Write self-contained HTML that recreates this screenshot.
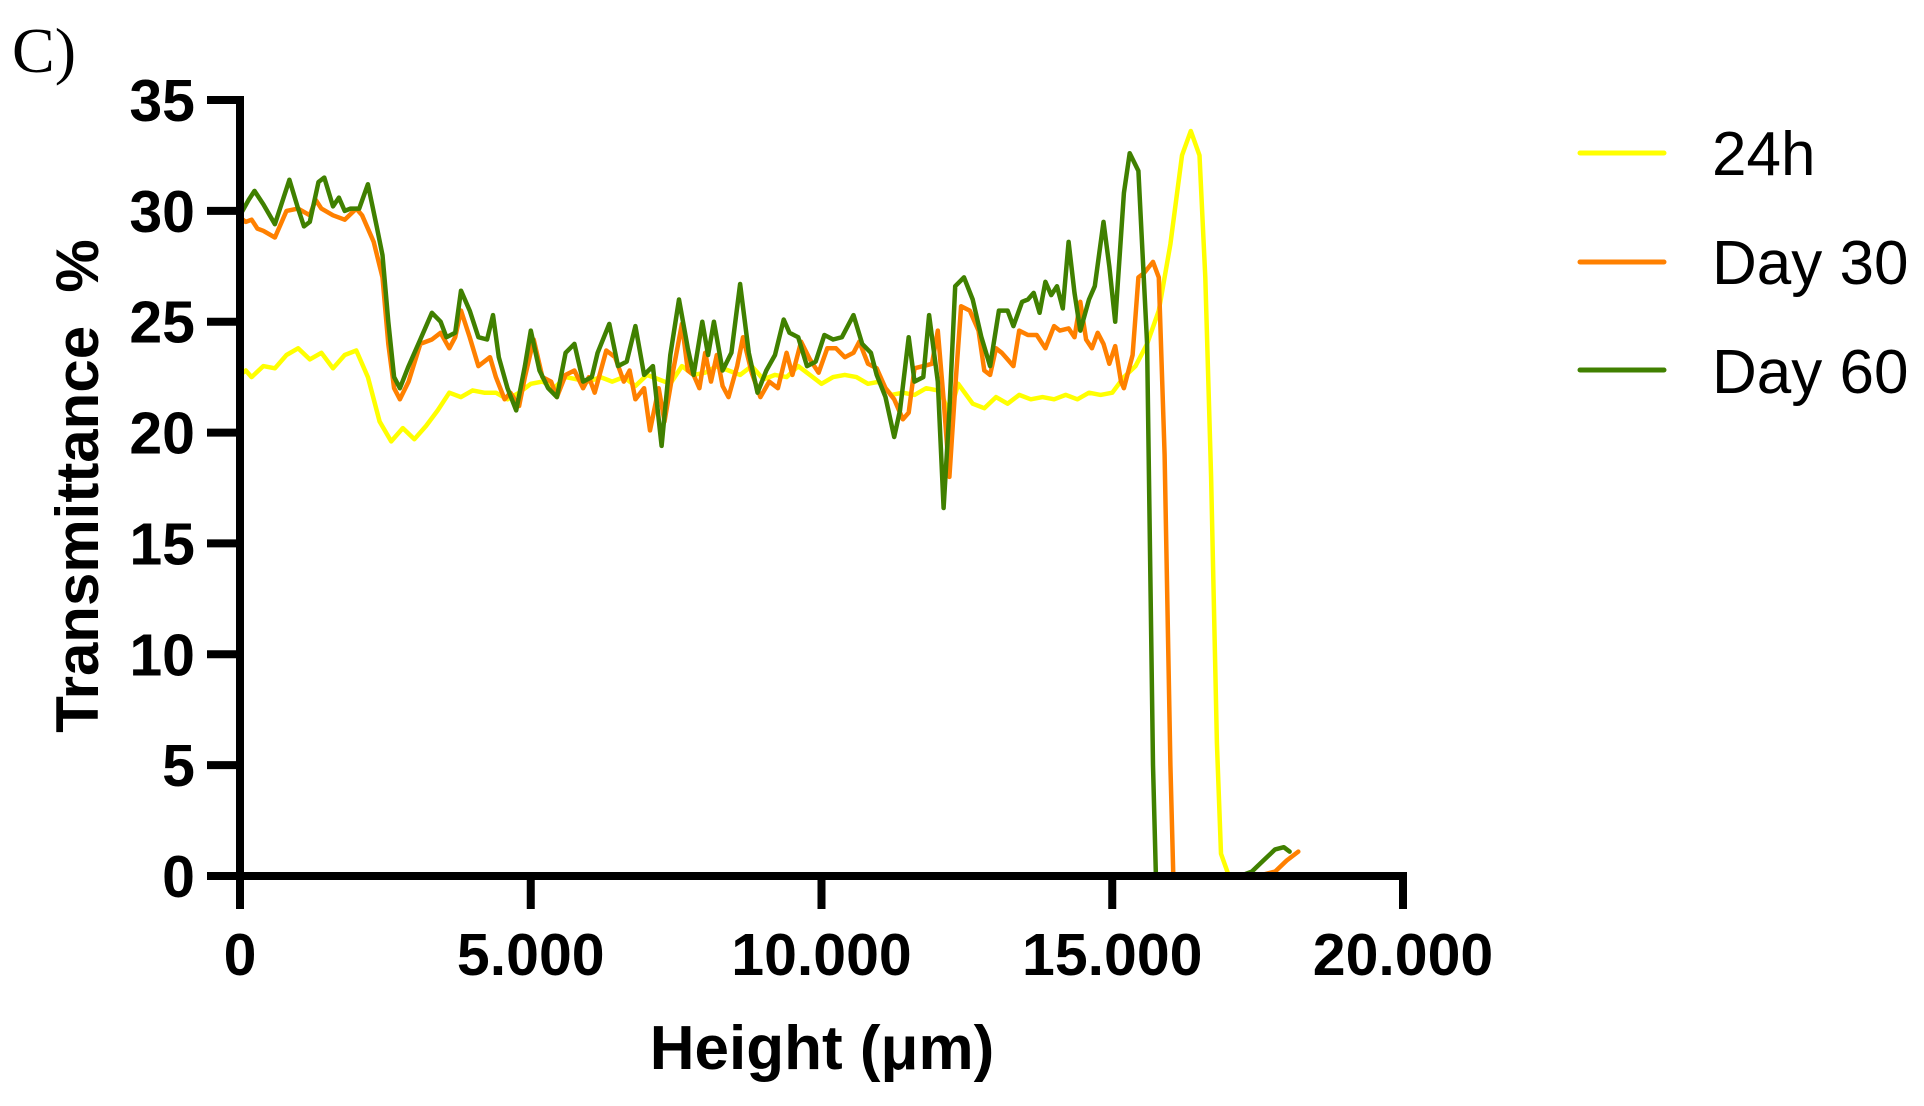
<!DOCTYPE html>
<html><head><meta charset="utf-8"><style>
html,body{margin:0;padding:0;background:#fff;}
svg{display:block;font-family:"Liberation Sans",Arial,sans-serif;}
</style></head><body>
<svg id="chart" width="1924" height="1106" viewBox="0 0 1924 1106">
<text x="12" y="72" font-family="Liberation Serif,serif" font-size="64">C)</text>
<g id="series"></g>
<g id="axes"></g>
<text x="822" y="1069" text-anchor="middle" font-weight="bold" font-size="62">Height (μm)</text>
<text transform="translate(98,486) rotate(-90)" text-anchor="middle" font-weight="bold" font-size="60" xml:space="preserve">Transmittance  %</text>
<g>
<line x1="1580" y1="153" x2="1664" y2="153" stroke="#ffff00" stroke-width="5" stroke-linecap="round"/>
<text x="1712" y="175" font-size="62">24h</text>
<line x1="1580" y1="262" x2="1664" y2="262" stroke="#ff8000" stroke-width="5" stroke-linecap="round"/>
<text x="1712" y="284" font-size="62">Day 30</text>
<line x1="1580" y1="370" x2="1664" y2="370" stroke="#408000" stroke-width="5" stroke-linecap="round"/>
<text x="1712" y="393" font-size="62">Day 60</text>
</g>
</svg>
<script>
const yTicks = [0,5,10,15,20,25,30,35];
const xTicks = [0,5000,10000,15000,20000];
const xTickLabels = ["0","5.000","10.000","15.000","20.000"];
const h24X = [0,100,200,400,600,800,1000,1200,1400,1600,1800,2000,2200,2400,2600,2800,3000,3200,3400,3600,3800,4000,4200,4400,4600,4800,5000,5200,5400,5600,5800,6000,6200,6400,6600,6800,7000,7200,7400,7600,7800,8000,8200,8400,8600,8800,9000,9200,9400,9600,9800,10000,10200,10400,10600,10800,11000,11200,11400,11600,11800,12000,12100,12200,12350,12600,12800,13000,13200,13400,13600,13800,14000,14200,14400,14600,14800,15000,15200,15400,15600,15800,16000,16200,16350,16500,16600,16700,16800,16870,17000,17500,17900];
const h24Y = [22.6,22.8,22.5,23,22.9,23.5,23.8,23.3,23.6,22.9,23.5,23.7,22.5,20.5,19.6,20.2,19.7,20.3,21,21.8,21.6,21.9,21.8,21.8,21.5,21.8,22.2,22.3,22,22.5,22.4,22.3,22.5,22.3,22.5,22.1,22.6,22.4,22.2,23,22.6,22.7,23,22.8,22.6,23,22.4,22.6,22.5,23,22.6,22.2,22.5,22.6,22.5,22.2,22.3,21.7,21.8,21.7,22,21.9,21.5,20.8,22.2,21.3,21.1,21.6,21.3,21.7,21.5,21.6,21.5,21.7,21.5,21.8,21.7,21.8,22.5,23,24,25.5,28.5,32.5,33.6,32.5,27,18,6,1,0.05,0,0];
const d30X = [0,100,200,300,400,600,800,1000,1200,1300,1400,1600,1800,2000,2100,2300,2450,2550,2650,2750,2900,3100,3300,3450,3600,3700,3800,3950,4100,4300,4400,4550,4650,4800,4900,5050,5200,5350,5450,5600,5750,5900,6000,6100,6300,6450,6600,6700,6800,6950,7050,7200,7300,7450,7600,7700,7800,7900,8000,8100,8200,8300,8400,8550,8650,8800,8950,9100,9250,9400,9500,9650,9800,9950,10100,10250,10400,10550,10650,10800,10950,11100,11250,11400,11500,11600,11750,11900,12000,12100,12200,12300,12400,12550,12700,12800,12900,13000,13100,13200,13300,13400,13550,13700,13850,14000,14100,14250,14350,14450,14550,14650,14750,14850,14950,15050,15150,15200,15350,15450,15550,15700,15800,15900,16000,16050,17500,17800,18000,18200];
const d30Y = [29.7,29.5,29.6,29.2,29.1,28.8,30,30.1,29.8,30.5,30.1,29.8,29.6,30.1,29.8,28.6,27,24,22,21.5,22.3,24,24.2,24.5,23.8,24.3,25.5,24.3,23,23.4,22.5,21.5,21.8,21.2,22.5,24.2,22.5,22.3,21.6,22.6,22.8,22,22.5,21.8,23.7,23.4,22.3,22.8,21.5,22,20.1,22,20.5,22.8,24.9,22.8,22.6,22,23.6,22.3,23.5,22.1,21.6,23,24.3,22.7,21.6,22.3,22,23.6,22.6,24.1,23.3,22.7,23.8,23.8,23.4,23.6,24.1,23.1,22.9,22,21.5,20.6,20.9,22.9,23,23.1,24.6,21.5,18,22,25.7,25.5,24.6,22.8,22.6,23.8,23.6,23.3,23,24.6,24.4,24.4,23.8,24.8,24.6,24.7,24.3,25.9,24.2,23.8,24.5,24,23.1,23.9,22.3,22,23.5,27,27.2,27.7,27,19,5,0,0,0.2,0.7,1.1];
const d60X = [0,150,250,400,600,750,850,1000,1100,1200,1350,1450,1600,1700,1800,1900,2050,2200,2350,2450,2550,2650,2750,2900,3100,3300,3450,3550,3700,3800,3950,4100,4250,4350,4450,4600,4750,4900,5000,5150,5300,5450,5600,5750,5900,6050,6150,6350,6500,6650,6800,6950,7100,7250,7400,7550,7700,7800,7950,8050,8150,8300,8450,8600,8750,8900,9050,9200,9350,9450,9600,9750,9900,10050,10200,10350,10550,10700,10850,10950,11100,11250,11350,11500,11600,11750,11850,12000,12100,12200,12300,12450,12600,12750,12900,13050,13200,13300,13450,13550,13650,13750,13850,13950,14050,14150,14250,14350,14450,14600,14700,14850,14950,15050,15200,15300,15450,15600,15700,15750,17200,17400,17600,17800,17950,18050];
const d60Y = [29.8,30.5,30.9,30.3,29.4,30.6,31.4,30.1,29.3,29.5,31.3,31.5,30.2,30.6,30,30.1,30.1,31.2,29.3,28,25,22.5,22,23,24.2,25.4,25,24.3,24.5,26.4,25.5,24.3,24.2,25.3,23.4,22,21,23,24.6,22.8,22,21.6,23.6,24,22.3,22.5,23.6,24.9,23,23.2,24.8,22.6,23,19.4,23.5,26,23.8,22.6,25,23.5,25,22.8,23.6,26.7,23.6,21.8,22.8,23.5,25.1,24.5,24.3,23,23.2,24.4,24.2,24.3,25.3,24,23.6,22.6,21.6,19.8,21,24.3,22.3,22.5,25.3,22.3,16.6,21,26.6,27,26,24.3,23,25.5,25.5,24.8,25.9,26,26.3,25.4,26.8,26.2,26.6,25.6,28.6,26.3,24.6,26,26.6,29.5,27.5,25,30.8,32.6,31.8,24,5,0,0,0.2,0.7,1.2,1.3,1.1];

const X0=240, X1=1403, Y0=876, Y1=100;
function sx(v){return X0+(v/20000)*(X1-X0);}
function sy(v){return Y0-(v/35)*(Y0-Y1);}
const NS="http://www.w3.org/2000/svg";
const axes=document.getElementById('axes');
const series=document.getElementById('series');
function mk(tag,attrs,parent){const e=document.createElementNS(NS,tag);for(const k in attrs)e.setAttribute(k,attrs[k]);parent.appendChild(e);return e;}

function drawSeries(xs,ys,color,name){
  const pts=xs.map((x,i)=>sx(x).toFixed(1)+","+sy(ys[i]).toFixed(1)).join(" ");
  const pl=mk('polyline',{points:pts,fill:'none',stroke:color,'stroke-width':4.5,'stroke-linejoin':'round','stroke-linecap':'round'},series);
  
  
}
drawSeries(h24X,h24Y,'#ffff00','line-24h');
drawSeries(d30X,d30Y,'#ff8000','line-day30');
drawSeries(d60X,d60Y,'#408000','line-day60');

const ya=mk('line',{x1:X0,y1:Y1-4,x2:X0,y2:Y0+4,stroke:'#000','stroke-width':8},axes);


const xa=mk('line',{x1:X0-33,y1:Y0,x2:X1+4,y2:Y0,stroke:'#000','stroke-width':8},axes);


yTicks.forEach(t=>{
  const y=sy(t);
  const tk=mk('line',{x1:X0-33,y1:y,x2:X0,y2:y,stroke:'#000','stroke-width':8},axes);
  
  
  const lb=mk('text',{x:X0-45,y:y+21,'text-anchor':'end','font-weight':'bold','font-size':59},axes);
  lb.textContent=String(t);
  
  
});
xTicks.forEach((t,i)=>{
  const x=sx(t);
  const tk=mk('line',{x1:x,y1:Y0,x2:x,y2:Y0+33,stroke:'#000','stroke-width':8},axes);
  
  
  const lb=mk('text',{x:x,y:975,'text-anchor':'middle','font-weight':'bold','font-size':59},axes);
  lb.textContent=xTickLabels[i];
  
  
});
</script>
</body></html>
